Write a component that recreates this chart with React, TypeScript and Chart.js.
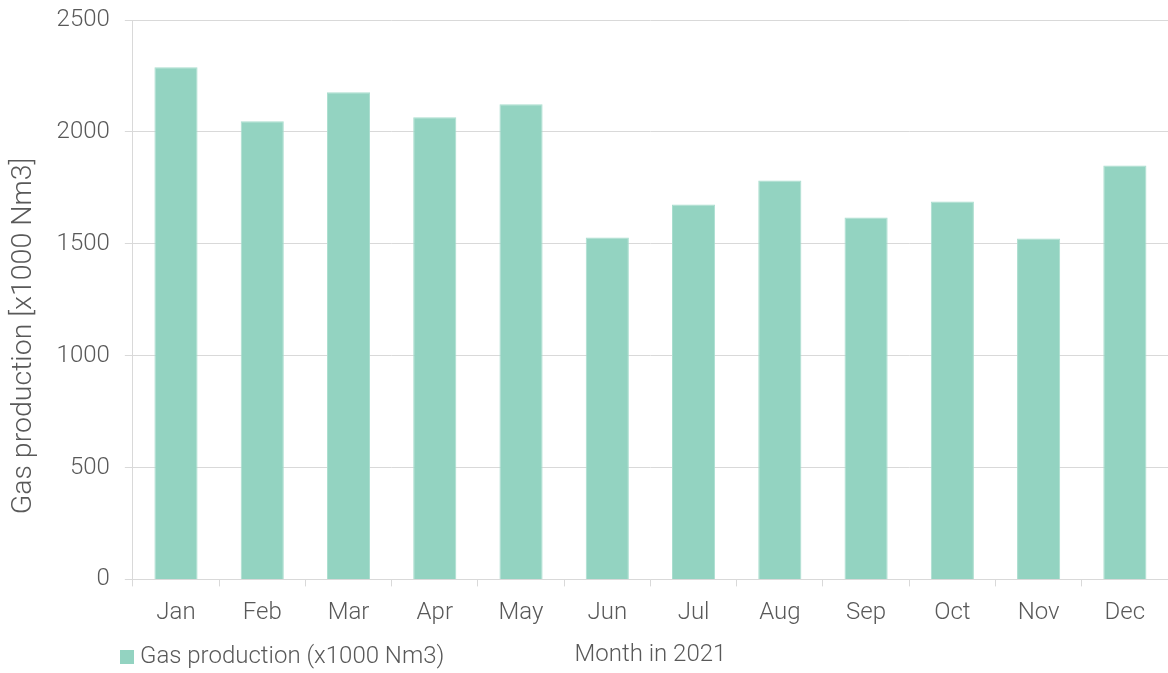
import React, { useEffect, useRef } from "react";
import { Chart, registerables } from "chart.js";

Chart.register(...registerables);

const months = ["Jan", "Feb", "Mar", "Apr", "May", "Jun", "Jul", "Aug", "Sep", "Oct", "Nov", "Dec"];
const gasProduction = [2289, 2047, 2177, 2065, 2124, 1528, 1676, 1783, 1617, 1689, 1523, 1850];
const seriesLabel = "Gas production (x1000 Nm3)";
const xTitle = "Month in 2021";
const yTitle = "Gas production [x1000 Nm3]";

const FONT = "Roboto, 'Liberation Sans', Arial, sans-serif";
const TEXT = "#595959";
const GRID = "#d9d9d9";
const BAR = "#93d3c1";
const BAR_BORDER = "#a9ddce";
const SIZE = 24;
const Y_TITLE_SIZE = 28.5;

const legendPlugin = {
  id: "customLegend",
  afterDraw(chart: any) {
    const ctx = chart.ctx;
    const ds = chart.data.datasets[0];
    ctx.save();
    ctx.fillStyle = ds.backgroundColor;
    ctx.fillRect(120, 650, 14, 14);
    ctx.fillStyle = TEXT;
    ctx.font = `300 ${SIZE}px ${FONT}`;
    ctx.textAlign = "left";
    ctx.textBaseline = "middle";
    ctx.fillText(ds.label, 140, 657);
    // y axis title
    ctx.translate(24, 336);
    ctx.rotate(-Math.PI / 2);
    ctx.font = `300 ${Y_TITLE_SIZE}px ${FONT}`;
    ctx.textAlign = "center";
    ctx.textBaseline = "middle";
    ctx.fillText(yTitle, 0, 0);
    ctx.restore();
  },
};

export default function App() {
  const ref = useRef<HTMLCanvasElement>(null);
  useEffect(() => {
    document.body.style.margin = "0";
    const font = { family: FONT, size: SIZE, weight: "300" as any };
    const chart = new Chart(ref.current as HTMLCanvasElement, {
      type: "bar",
      data: {
        labels: months,
        datasets: [
          {
            label: seriesLabel,
            data: gasProduction,
            backgroundColor: BAR,
            borderColor: BAR_BORDER,
            borderWidth: 1,
            barPercentage: 0.5,
            categoryPercentage: 1,
          },
        ],
      },
      options: {
        responsive: false,
        animation: false,
        layout: { padding: { top: 0, right: 0, bottom: 0, left: 41.6 } },
        plugins: {
          legend: { display: false },
          tooltip: { enabled: false },
        },
        scales: {
          x: {
            grid: {
              display: true,
              drawOnChartArea: false,
              drawTicks: true,
              tickLength: 7,
              color: GRID,
              offset: true,
            },
            border: { display: true, color: GRID, width: 1 },
            ticks: { color: TEXT, padding: 12, font },
            title: {
              display: true,
              text: xTitle,
              color: TEXT,
              padding: { top: 1, bottom: 4 },
              font,
            },
          },
          y: {
            min: 0,
            max: 2500,
            afterFit: (scale: any) => {
              scale.paddingTop = 20;
            },
            grid: { color: GRID, tickLength: 8, drawTicks: true },
            border: { display: true, color: GRID, width: 1 },
            ticks: {
              stepSize: 500,
              color: TEXT,
              padding: 15,
              font,
              callback: (v: any) => String(v),
            },
            title: { display: false },
          },
        },
      },
      plugins: [legendPlugin],
    });
    return () => chart.destroy();
  }, []);
  return (
    <div style={{ width: 1168, height: 673 }}>
      <canvas ref={ref} width={1168} height={673} />
    </div>
  );
}
